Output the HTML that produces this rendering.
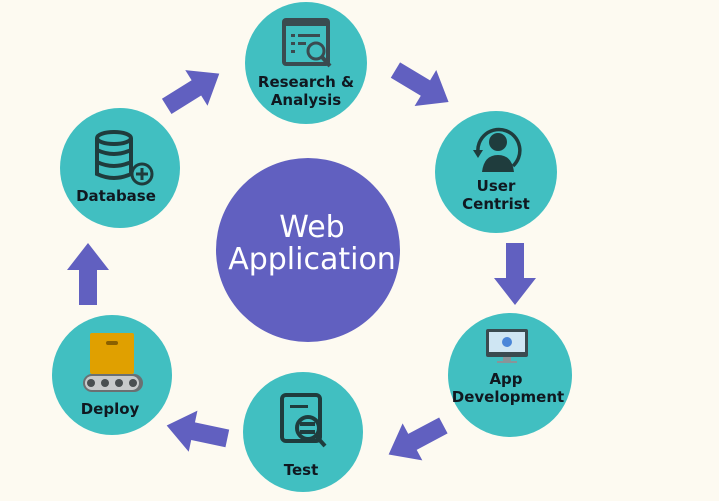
<!DOCTYPE html>
<html><head><style>
html,body{margin:0;padding:0;background:#fdfaf1;}
svg{display:block}
text{font-family:"DejaVu Sans","Liberation Sans",sans-serif;}
.l{font-weight:bold;font-size:15px;fill:#101820;text-anchor:middle}
</style></head><body>
<svg width="719" height="501" viewBox="0 0 719 501">
<rect width="719" height="501" fill="#fdfaf1"/>
<defs>
<polygon id="ar" points="-31,-9 4,-9 4,-21 31,0 4,21 4,9 -31,9" fill="#6160c0"/>
</defs>
<use href="#ar" transform="translate(193,90) rotate(-32)"/>
<use href="#ar" transform="translate(422,86) rotate(31)"/>
<use href="#ar" transform="translate(515,274) rotate(90)"/>
<use href="#ar" transform="translate(416,440) rotate(152)"/>
<use href="#ar" transform="translate(197,432) rotate(192)"/>
<use href="#ar" transform="translate(88,274) rotate(-90)"/>
<circle cx="308" cy="250" r="92" fill="#6160c0"/>
<text x="312" y="237" fill="#fff" font-size="30" text-anchor="middle">Web</text>
<text x="312" y="269" fill="#fff" font-size="30" text-anchor="middle">Application</text>
<circle cx="306" cy="63" r="61" fill="#41bfc1"/>
<rect x="282" y="18" width="48" height="48" rx="4" fill="#3a4b50"/>
<rect x="286" y="26" width="40" height="36" fill="#41bfc1"/>
<rect x="291" y="34" width="4" height="3" fill="#3a4b50"/><rect x="298" y="34" width="22" height="3" fill="#3a4b50"/>
<rect x="291" y="42" width="4" height="3" fill="#3a4b50"/><rect x="298" y="42" width="8" height="3" fill="#3a4b50"/>
<rect x="291" y="50" width="4" height="3" fill="#3a4b50"/>
<circle cx="316" cy="51" r="8" fill="#41bfc1" stroke="#3a4b50" stroke-width="3"/>
<line x1="322" y1="57" x2="330" y2="66" stroke="#3a4b50" stroke-width="4"/>
<text class="l" x="306" y="87">Research &amp;</text>
<text class="l" x="306" y="105">Analysis</text>
<circle cx="496" cy="172" r="61" fill="#41bfc1"/>
<path d="M478,153 A21,21 0 1 1 513,166" fill="none" stroke="#1f3c3d" stroke-width="3.5"/>
<circle cx="498" cy="142" r="9" fill="#1f3c3d"/>
<path d="M482,172 Q484,155 498,155 Q512,155 514,172 Z" fill="#1f3c3d"/>
<polygon points="473,150 483,150 478,158" fill="#1f3c3d"/>
<text class="l" x="496" y="191">User</text>
<text class="l" x="496" y="209">Centrist</text>
<circle cx="510" cy="375" r="62" fill="#41bfc1"/>
<rect x="486" y="329" width="42" height="28" rx="2" fill="#3a4b50"/>
<rect x="489" y="332" width="36" height="20" fill="#cfe6f3"/>
<circle cx="507" cy="342" r="5" fill="#4a86d8"/>
<rect x="503" y="357" width="8" height="4" fill="#8a9498"/>
<rect x="497" y="361" width="20" height="2" fill="#8a9498"/>
<text class="l" x="506" y="384">App</text>
<text class="l" x="508" y="402">Development</text>
<circle cx="303" cy="432" r="60" fill="#41bfc1"/>
<rect x="282" y="395" width="38" height="46" rx="4" fill="none" stroke="#1f3c3d" stroke-width="4"/>
<rect x="290" y="405" width="18" height="3" fill="#1f3c3d"/>
<circle cx="308" cy="428" r="11" fill="#41bfc1" stroke="#1f3c3d" stroke-width="4"/>
<rect x="300" y="422" width="15" height="4" fill="#1f3c3d"/><rect x="300" y="430" width="15" height="4" fill="#1f3c3d"/>
<line x1="316" y1="436" x2="325" y2="446" stroke="#1f3c3d" stroke-width="4"/>
<text class="l" x="301" y="475">Test</text>
<circle cx="112" cy="375" r="60" fill="#41bfc1"/>
<rect x="90" y="333" width="44" height="41" rx="2" fill="#e0a000"/>
<rect x="106" y="341" width="12" height="4" rx="2" fill="#8a6000"/>
<rect x="83" y="374" width="60" height="18" rx="9" fill="#6b7072"/>
<rect x="85" y="376" width="54" height="14" rx="7" fill="#c8cacb"/>
<circle cx="91" cy="383" r="4" fill="#4a4f51"/><circle cx="105" cy="383" r="4" fill="#4a4f51"/><circle cx="119" cy="383" r="4" fill="#4a4f51"/><circle cx="133" cy="383" r="4" fill="#4a4f51"/>
<text class="l" x="110" y="414">Deploy</text>
<circle cx="120" cy="168" r="60" fill="#41bfc1"/>
<g fill="none" stroke="#1f3c3d" stroke-width="4">
<ellipse cx="114" cy="138" rx="17" ry="6"/>
<path d="M97,138 V174 Q114,182 131,174 V138"/>
<path d="M97,150 Q114,158 131,150"/><path d="M97,162 Q114,170 131,162"/>
</g>
<circle cx="142" cy="174" r="10" fill="#41bfc1" stroke="#1f3c3d" stroke-width="3"/>
<path d="M142,168 V180 M136,174 H148" stroke="#1f3c3d" stroke-width="3"/>
<text class="l" x="116" y="201">Database</text>
</svg>
</body></html>
